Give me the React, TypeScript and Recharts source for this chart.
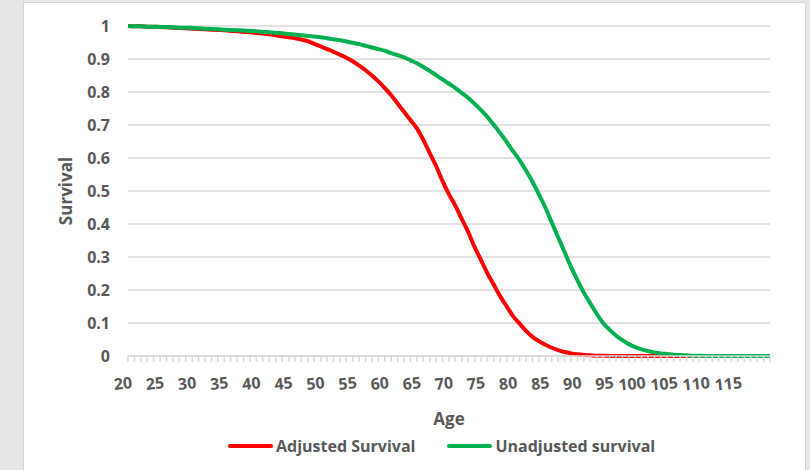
import { LineChart, Line, XAxis, YAxis, CartesianGrid, Legend, Label } from 'recharts'

const ages = Array.from({ length: 101 }, (_, i) => 20 + i)

const adjusted = [
  1.0, 0.999, 0.999, 0.998, 0.998, 0.997, 0.996, 0.995, 0.994, 0.993,
  0.992, 0.991, 0.99, 0.989, 0.988, 0.987, 0.985, 0.984, 0.982, 0.981,
  0.979, 0.977, 0.975, 0.972, 0.969, 0.966, 0.963, 0.959, 0.954, 0.946,
  0.938, 0.93, 0.922, 0.913, 0.904, 0.893, 0.88, 0.866, 0.85, 0.832,
  0.812, 0.79, 0.765, 0.74, 0.715, 0.69, 0.655, 0.615, 0.575, 0.53,
  0.49, 0.455, 0.415, 0.375, 0.33, 0.29, 0.25, 0.215, 0.18, 0.15,
  0.12, 0.098, 0.076, 0.058, 0.045, 0.034, 0.025, 0.018, 0.012, 0.008,
  0.005, 0.003, 0.002, 0.001, 0.001, 0, 0, 0, 0, 0,
  0, 0, 0, 0, 0, 0, 0, 0, 0, 0,
  0, 0, 0, 0, 0, 0, 0, 0, 0, 0,
  0,
]

const unadjusted = [
  1.0, 0.999, 0.999, 0.998, 0.998, 0.997, 0.997, 0.996, 0.995, 0.995,
  0.994, 0.993, 0.992, 0.991, 0.99, 0.989, 0.988, 0.987, 0.986, 0.985,
  0.984, 0.982, 0.981, 0.979, 0.978, 0.976, 0.974, 0.972, 0.97, 0.968,
  0.966, 0.963, 0.96, 0.957, 0.953, 0.949, 0.945, 0.94, 0.935, 0.93,
  0.925, 0.918, 0.912, 0.905, 0.896, 0.887, 0.876, 0.864, 0.851, 0.838,
  0.825, 0.812, 0.797, 0.782, 0.764, 0.745, 0.724, 0.7, 0.675, 0.648,
  0.62, 0.593, 0.562, 0.528, 0.49, 0.45, 0.405, 0.36, 0.315, 0.27,
  0.23, 0.192, 0.16, 0.128, 0.1, 0.08, 0.062, 0.048, 0.036, 0.027,
  0.02, 0.015, 0.011, 0.008, 0.006, 0.004, 0.003, 0.002, 0.001, 0.001,
  0, 0, 0, 0, 0, 0, 0, 0, 0, 0,
  0,
]

const yTicks = [0, 0.1, 0.2, 0.3, 0.4, 0.5, 0.6, 0.7, 0.8, 0.9, 1]

const data = ages.map((age, i) => ({ age, adjusted: adjusted[i], unadjusted: unadjusted[i] }))

const FONT = '"Open Sans", sans-serif'
const TEXT = '#595959'
const GRID = '#d9d9d9'
const RED = '#ff0000'
const GREEN = '#00b050'

const AgeTick = ({ x, y, payload }: any) => {
  const v = payload.value
  if (v % 5 !== 0 || v >= 120) return null
  const ax = x + 4
  const ay = y + 18
  return (
    <text
      x={ax}
      y={ay}
      textAnchor="end"
      dominantBaseline="central"
      transform={`rotate(-6 ${ax} ${ay})`}
      fill={TEXT}
      fontFamily={FONT}
      fontWeight={700}
      fontSize={16}
    >
      {v}
    </text>
  )
}

const legendItems = [
  { name: 'Adjusted Survival', color: RED },
  { name: 'Unadjusted survival', color: GREEN },
]

const LegendContent = () => (
  <div style={{ display: 'flex', alignItems: 'center', fontFamily: FONT, fontWeight: 700, fontSize: 16, color: TEXT }}>
    {legendItems.map((it, i) => (
      <div key={it.name} style={{ display: 'flex', alignItems: 'center', marginRight: i === 0 ? 32 : 0 }}>
        <span style={{ display: 'inline-block', width: 45, height: 4, borderRadius: 2, background: it.color, marginRight: 3 }} />
        <span>{it.name}</span>
      </div>
    ))}
  </div>
)

export default function App() {
  return (
    <div style={{ position: 'absolute', left: 0, top: 0, width: 810, height: 470, background: '#e6e6e6', overflow: 'hidden' }}>
      <div style={{ position: 'absolute', left: 23, top: 2, width: 781, height: 480, background: '#fff', border: '1px solid #d6d6d6' }} />
      <div style={{ position: 'absolute', left: 0, top: 0 }}>
        <LineChart width={810} height={470} data={data} margin={{ top: 26, right: 40, left: 0, bottom: 44 }}>
          <CartesianGrid vertical={false} stroke={GRID} strokeWidth={1.5} />
          <XAxis
            dataKey="age"
            type="number"
            domain={[20, 120]}
            ticks={ages}
            interval={0}
            height={70}
            stroke={GRID}
            strokeWidth={1.5}
            tickSize={6}
            tick={<AgeTick />}
          >
            <Label
              value="Age"
              position="insideBottom"
              offset={1}
              fill={TEXT}
              fontFamily={FONT}
              fontWeight={700}
              fontSize={17}
            />
          </XAxis>
          <YAxis
            domain={[0, 1]}
            ticks={yTicks}
            width={128}
            axisLine={false}
            tickLine={false}
            tickMargin={12}
            tick={{ fill: TEXT, fontFamily: FONT, fontWeight: 700, fontSize: 16 }}
          >
            <Label
              content={({ viewBox }: any) => {
                const cx = viewBox.x + 65
                const cy = viewBox.y + viewBox.height / 2
                return (
                  <text
                    x={cx}
                    y={cy}
                    textAnchor="middle"
                    dominantBaseline="central"
                    transform={`rotate(-90 ${cx} ${cy})`}
                    fill={TEXT}
                    fontFamily={FONT}
                    fontWeight={700}
                    fontSize={17}
                  >
                    Survival
                  </text>
                )
              }}
            />
          </YAxis>
          <Legend
            layout="horizontal"
            verticalAlign="middle"
            align="center"
            wrapperStyle={{ top: 435, left: 228, width: 520 }}
            content={<LegendContent />}
          />
          <Line
            dataKey="adjusted"
            name="Adjusted Survival"
            stroke={RED}
            strokeWidth={4}
            dot={false}
            type="monotone"
            isAnimationActive={false}
          />
          <Line
            dataKey="unadjusted"
            name="Unadjusted survival"
            stroke={GREEN}
            strokeWidth={4}
            dot={false}
            type="monotone"
            isAnimationActive={false}
          />
        </LineChart>
      </div>
    </div>
  )
}
